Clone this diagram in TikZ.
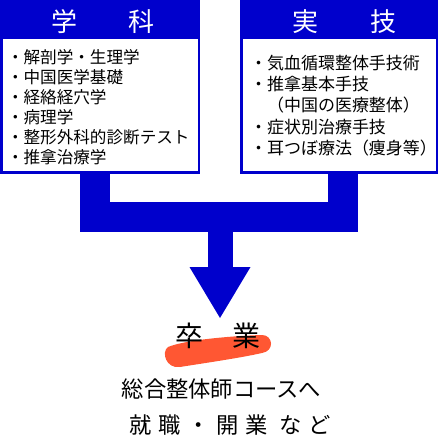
\documentclass[tikz,border=0pt]{standalone}
\usepackage{fontspec}
\setmainfont{Noto Sans CJK JP}
\newfontfamily\widejp{Noto Sans CJK JP}[LetterSpace=30]
\usetikzlibrary{arrows.meta}
\definecolor{pipeblue}{RGB}{0,0,204}
\definecolor{brushorange}{RGB}{255,87,51}

\begin{document}
\begin{tikzpicture}[
		x=1pt, y=-1pt,
		thin,
		every node/.style={inner sep=0pt, outer sep=0pt},
		head/.style={fill=pipeblue, minimum width=200, minimum height=39},
		listbox/.style={draw=pipeblue, line width=2.5pt, fill=white, minimum height=139.5},
		title/.style={anchor=base, text=white, font=\fontsize{26}{30}\selectfont},
		item/.style={anchor=base west, font=\fontsize{16.6}{20}\selectfont},
		pipe/.style={draw=pipeblue, line width=30pt, line join=miter, line cap=butt}
	]
		\useasboundingbox (0,0) rectangle (440,436);

		% Boxes
		\node[listbox, minimum width=197.5] (gakkabody) at (100,103) {};
		\node[head] (gakkahead) at (100,19.5) {};
		\node[title] (gakkatitle) at (103,31.9) {学　　科};
		\node[listbox, minimum width=195.5] (jitsugibody) at (339,103) {};
		\node[head, minimum width=198] (jitsugihead) at (339,19.5) {};
		\node[title] (jitsugititle) at (344.5,31.9) {実　　技};

		% Items
		\foreach \txt [count=\i] in {解剖学・生理学, 中国医学基礎, 経絡経穴学, 病理学, 整形外科的診断テスト, 推拿治療学}
			\node[item] (gakka\i) at (7, 43.5+20*\i) {・\txt};
		\foreach \txt [count=\i] in {・気血循環整体手技術, ・推拿基本手技, 　（中国の医療整体）, ・症状別治療手技, ・耳つぼ療法（痩身等）}
			\node[item, font=\fontsize{17}{21}\selectfont] (jitsugi\i) at (250, 48.2+21.25*\i) {\txt};

		% Pipe
		\coordinate (join) at (220,217.5);
		\coordinate (tip) at (220,318);
		\draw[pipe] ([xshift=94pt]gakkabody.south west) |- (join) -| ([xshift=102pt]jitsugibody.south west);
		\draw[pipe, line width=25pt, -{Triangle[width=61pt, length=51pt, line width=0pt]}] (join) -- (tip);

		% Graduation
		\fill[brushorange] (168,347) .. controls (185,340) and (230,336) .. (262,335)
			.. controls (273,335) and (275,351) .. (262,353)
			.. controls (240,358) and (205,363) .. (180,367)
			.. controls (166,369) and (161,352) .. (168,347) -- cycle;
		\node[anchor=base, font=\fontsize{28}{32}\selectfont] (sotsugyo) at (218,346.6) {卒\hspace{30pt}業};
		\node[anchor=base, font=\fontsize{22.3}{26}\selectfont] (course) at (221.5,397.5) {総合整体師コースへ};
		\node[anchor=base, font=\fontsize{22.3}{26}\widejp] (shinro) at (230,433) {就職・開業\hspace{12pt}など};
\end{tikzpicture}
\end{document}
